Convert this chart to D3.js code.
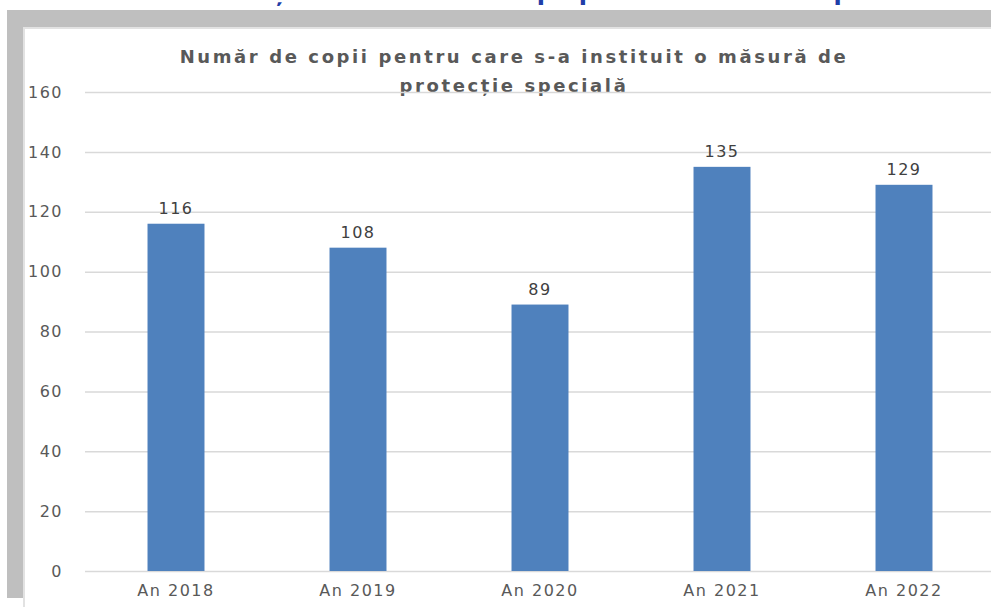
<!DOCTYPE html>
<html>
<head>
<meta charset="utf-8">
<script src="https://cdn.jsdelivr.net/npm/d3@7"></script>
<style>
  html, body { margin: 0; padding: 0; background: #fff; }
  svg { display: block; }
</style>
</head>
<body>
<div id="chart"></div>
<script>
// date
const categories = ["An 2018", "An 2019", "An 2020", "An 2021", "An 2022"];
const values = [116, 108, 89, 135, 129];
const yTicks = [0, 20, 40, 60, 80, 100, 120, 140, 160];
const titleLines = ["Număr de copii pentru care s-a instituit o măsură de", "protecție specială"];
const headerText = "Evoluția numărului de copii pentru care s-a dispus o măsură de protecție specială";

const W = 991, H = 607;
const svg = d3.select("#chart").append("svg")
    .attr("width", W).attr("height", H);

// fragmentul de titlu albastru taiat sus (se vad doar cozile literelor)
svg.append("clipPath").attr("id", "topclip")
    .append("rect").attr("x", 0).attr("y", 0).attr("width", W).attr("height", 9);
svg.append("text")
    .attr("clip-path", "url(#topclip)")
    .attr("x", 200).attr("y", 0)
    .attr("font-family", "DejaVu Sans").attr("font-weight", "bold")
    .attr("font-size", 24).attr("fill", "#1f3ea8")
    .text(headerText);

// rama gri
svg.append("rect").attr("x", 7).attr("y", 10).attr("width", W - 7).attr("height", 17).attr("fill", "#bfbfbf");
svg.append("rect").attr("x", 7).attr("y", 10).attr("width", 16).attr("height", 588).attr("fill", "#bfbfbf");
svg.append("rect").attr("x", 23).attr("y", 27).attr("width", W - 23).attr("height", 2).attr("fill", "#e2e2e2");
svg.append("rect").attr("x", 23).attr("y", 27).attr("width", 2).attr("height", H - 27).attr("fill", "#e2e2e2");

// scale
const x = d3.scaleBand().domain(categories).range([85, 995]).paddingInner(0.687).paddingOuter(0.3435);
const y = d3.scaleLinear().domain([0, 160]).range([571, 92]);

// titlu
svg.append("g").selectAll("text").data(titleLines).enter().append("text")
    .attr("x", 514).attr("y", (d, i) => 63 + i * 29)
    .attr("text-anchor", "middle")
    .attr("font-family", "DejaVu Sans").attr("font-weight", "bold")
    .attr("font-size", 18).attr("letter-spacing", 2.6)
    .attr("fill", "#595959")
    .text(d => d);

// grila + axa Y
const yAxis = svg.append("g").attr("transform", "translate(85,0)")
    .call(d3.axisLeft(y).tickValues(yTicks).tickSize(-(W - 85)).tickPadding(22));
yAxis.select(".domain").remove();
yAxis.selectAll(".tick line").attr("stroke", "#d9d9d9").attr("stroke-width", 1.5);
yAxis.selectAll(".tick text")
    .attr("font-family", "DejaVu Sans").attr("font-size", 16).attr("letter-spacing", 1.5)
    .attr("fill", "#595959");

// axa X
const xAxis = svg.append("g").attr("transform", "translate(0,571)")
    .call(d3.axisBottom(x).tickSize(0).tickPadding(14));
xAxis.select(".domain").remove();
xAxis.selectAll(".tick text")
    .attr("font-family", "DejaVu Sans").attr("font-size", 16).attr("letter-spacing", 1.5)
    .attr("fill", "#595959");

// bare
svg.append("g").selectAll("rect").data(values).enter().append("rect")
    .attr("x", (d, i) => x(categories[i]))
    .attr("y", d => y(d))
    .attr("width", x.bandwidth())
    .attr("height", d => y(0) - y(d))
    .attr("fill", "#4f81bd");

// etichete valori
svg.append("g").selectAll("text").data(values).enter().append("text")
    .attr("x", (d, i) => x(categories[i]) + x.bandwidth() / 2)
    .attr("y", d => y(d) - 10)
    .attr("text-anchor", "middle")
    .attr("font-family", "DejaVu Sans").attr("font-size", 16).attr("letter-spacing", 1.5)
    .attr("fill", "#404040")
    .text(d => d);
</script>
</body>
</html>
